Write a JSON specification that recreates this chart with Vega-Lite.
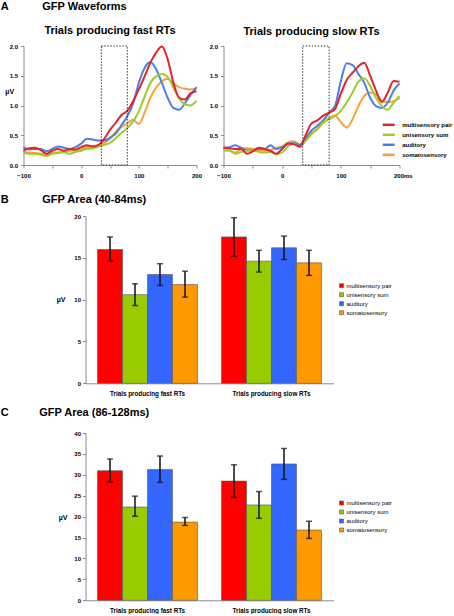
{
  "$schema": "https://vega.github.io/schema/vega-lite/v6.json",
  "background": "white",
  "padding": {"left": 0.5, "top": 1, "right": 0, "bottom": 0},
  "bounds": "full",
  "spacing": 0,
  "config": {
    "font": "Liberation Sans",
    "view": {"stroke": null},
    "axis": {"labelFont": "Liberation Sans", "labelColor": "#000", "labelFontWeight": "bold", "labelFontSize": 6, "labelOverlap": false, "domainColor": "#8c8c8c", "tickColor": "#8c8c8c", "grid": false, "tickSize": 3, "titleFont": "Liberation Sans", "titleFontWeight": "bold", "titleFontSize": 7, "titleColor": "#000"},
    "legend": {"labelFont": "Liberation Sans", "labelColor": "#000"},
    "title": {"font": "Liberation Sans", "fontWeight": "bold", "fontSize": 11, "color": "#000"}
  },
  "resolve": {"scale": {"color": "independent", "x": "independent", "y": "independent", "xOffset": "independent"}, "legend": {"color": "independent"}},
  "datasets": {
    "fast": [
      {"ms": -100, "multisensory pair": 0.24, "unisensory sum": 0.21, "auditory": 0.30, "somatosensory": 0.22},
      {"ms": -90, "multisensory pair": 0.28, "unisensory sum": 0.19, "auditory": 0.26, "somatosensory": 0.21},
      {"ms": -80, "multisensory pair": 0.29, "unisensory sum": 0.19, "auditory": 0.27, "somatosensory": 0.20},
      {"ms": -70, "multisensory pair": 0.25, "unisensory sum": 0.17, "auditory": 0.27, "somatosensory": 0.19},
      {"ms": -60, "multisensory pair": 0.19, "unisensory sum": 0.15, "auditory": 0.23, "somatosensory": 0.17},
      {"ms": -50, "multisensory pair": 0.24, "unisensory sum": 0.19, "auditory": 0.27, "somatosensory": 0.20},
      {"ms": -40, "multisensory pair": 0.27, "unisensory sum": 0.20, "auditory": 0.31, "somatosensory": 0.21},
      {"ms": -30, "multisensory pair": 0.24, "unisensory sum": 0.22, "auditory": 0.29, "somatosensory": 0.22},
      {"ms": -20, "multisensory pair": 0.27, "unisensory sum": 0.19, "auditory": 0.27, "somatosensory": 0.24},
      {"ms": -10, "multisensory pair": 0.26, "unisensory sum": 0.22, "auditory": 0.30, "somatosensory": 0.25},
      {"ms": 0, "multisensory pair": 0.30, "unisensory sum": 0.24, "auditory": 0.36, "somatosensory": 0.27},
      {"ms": 10, "multisensory pair": 0.33, "unisensory sum": 0.27, "auditory": 0.44, "somatosensory": 0.30},
      {"ms": 20, "multisensory pair": 0.31, "unisensory sum": 0.28, "auditory": 0.43, "somatosensory": 0.32},
      {"ms": 30, "multisensory pair": 0.34, "unisensory sum": 0.31, "auditory": 0.41, "somatosensory": 0.33},
      {"ms": 40, "multisensory pair": 0.44, "unisensory sum": 0.34, "auditory": 0.41, "somatosensory": 0.37},
      {"ms": 50, "multisensory pair": 0.59, "unisensory sum": 0.37, "auditory": 0.46, "somatosensory": 0.44},
      {"ms": 60, "multisensory pair": 0.71, "unisensory sum": 0.45, "auditory": 0.53, "somatosensory": 0.56},
      {"ms": 70, "multisensory pair": 0.84, "unisensory sum": 0.54, "auditory": 0.67, "somatosensory": 0.64},
      {"ms": 80, "multisensory pair": 0.91, "unisensory sum": 0.62, "auditory": 0.82, "somatosensory": 0.70},
      {"ms": 90, "multisensory pair": 1.07, "unisensory sum": 0.73, "auditory": 1.03, "somatosensory": 0.76},
      {"ms": 100, "multisensory pair": 1.27, "unisensory sum": 0.90, "auditory": 1.38, "somatosensory": 0.69},
      {"ms": 110, "multisensory pair": 1.49, "unisensory sum": 1.15, "auditory": 1.63, "somatosensory": 0.88},
      {"ms": 120, "multisensory pair": 1.72, "unisensory sum": 1.38, "auditory": 1.73, "somatosensory": 1.13},
      {"ms": 130, "multisensory pair": 1.89, "unisensory sum": 1.49, "auditory": 1.61, "somatosensory": 1.30},
      {"ms": 140, "multisensory pair": 1.99, "unisensory sum": 1.53, "auditory": 1.38, "somatosensory": 1.41},
      {"ms": 150, "multisensory pair": 1.78, "unisensory sum": 1.48, "auditory": 1.13, "somatosensory": 1.45},
      {"ms": 160, "multisensory pair": 1.38, "unisensory sum": 1.30, "auditory": 0.96, "somatosensory": 1.37},
      {"ms": 170, "multisensory pair": 1.13, "unisensory sum": 1.12, "auditory": 0.93, "somatosensory": 1.31},
      {"ms": 180, "multisensory pair": 1.10, "unisensory sum": 1.02, "auditory": 1.04, "somatosensory": 1.28},
      {"ms": 190, "multisensory pair": 1.21, "unisensory sum": 1.00, "auditory": 1.18, "somatosensory": 1.27},
      {"ms": 200, "multisensory pair": 1.24, "unisensory sum": 1.08, "auditory": 1.31, "somatosensory": 1.28}
    ],
    "slow": [
      {"ms": -100, "multisensory pair": 0.30, "unisensory sum": 0.24, "auditory": 0.28, "somatosensory": 0.25},
      {"ms": -90, "multisensory pair": 0.28, "unisensory sum": 0.25, "auditory": 0.30, "somatosensory": 0.24},
      {"ms": -80, "multisensory pair": 0.27, "unisensory sum": 0.19, "auditory": 0.33, "somatosensory": 0.21},
      {"ms": -70, "multisensory pair": 0.27, "unisensory sum": 0.22, "auditory": 0.29, "somatosensory": 0.27},
      {"ms": -60, "multisensory pair": 0.19, "unisensory sum": 0.24, "auditory": 0.25, "somatosensory": 0.28},
      {"ms": -50, "multisensory pair": 0.23, "unisensory sum": 0.24, "auditory": 0.25, "somatosensory": 0.27},
      {"ms": -40, "multisensory pair": 0.29, "unisensory sum": 0.22, "auditory": 0.27, "somatosensory": 0.24},
      {"ms": -30, "multisensory pair": 0.27, "unisensory sum": 0.21, "auditory": 0.27, "somatosensory": 0.24},
      {"ms": -20, "multisensory pair": 0.24, "unisensory sum": 0.22, "auditory": 0.33, "somatosensory": 0.25},
      {"ms": -10, "multisensory pair": 0.19, "unisensory sum": 0.18, "auditory": 0.27, "somatosensory": 0.29},
      {"ms": 0, "multisensory pair": 0.27, "unisensory sum": 0.21, "auditory": 0.30, "somatosensory": 0.31},
      {"ms": 10, "multisensory pair": 0.36, "unisensory sum": 0.31, "auditory": 0.35, "somatosensory": 0.38},
      {"ms": 20, "multisensory pair": 0.35, "unisensory sum": 0.36, "auditory": 0.37, "somatosensory": 0.40},
      {"ms": 30, "multisensory pair": 0.31, "unisensory sum": 0.30, "auditory": 0.34, "somatosensory": 0.34},
      {"ms": 40, "multisensory pair": 0.50, "unisensory sum": 0.40, "auditory": 0.45, "somatosensory": 0.42},
      {"ms": 50, "multisensory pair": 0.70, "unisensory sum": 0.52, "auditory": 0.58, "somatosensory": 0.53},
      {"ms": 60, "multisensory pair": 0.75, "unisensory sum": 0.60, "auditory": 0.66, "somatosensory": 0.61},
      {"ms": 70, "multisensory pair": 0.83, "unisensory sum": 0.72, "auditory": 0.75, "somatosensory": 0.71},
      {"ms": 80, "multisensory pair": 0.88, "unisensory sum": 0.77, "auditory": 0.88, "somatosensory": 0.79},
      {"ms": 90, "multisensory pair": 0.94, "unisensory sum": 0.82, "auditory": 0.99, "somatosensory": 0.83},
      {"ms": 100, "multisensory pair": 1.20, "unisensory sum": 0.91, "auditory": 1.41, "somatosensory": 0.72},
      {"ms": 110, "multisensory pair": 1.43, "unisensory sum": 1.05, "auditory": 1.71, "somatosensory": 0.63},
      {"ms": 120, "multisensory pair": 1.55, "unisensory sum": 1.22, "auditory": 1.68, "somatosensory": 0.77},
      {"ms": 130, "multisensory pair": 1.66, "unisensory sum": 1.40, "auditory": 1.53, "somatosensory": 0.99},
      {"ms": 140, "multisensory pair": 1.72, "unisensory sum": 1.46, "auditory": 1.38, "somatosensory": 1.16},
      {"ms": 150, "multisensory pair": 1.50, "unisensory sum": 1.33, "auditory": 1.13, "somatosensory": 1.22},
      {"ms": 160, "multisensory pair": 1.25, "unisensory sum": 1.13, "auditory": 0.99, "somatosensory": 1.19},
      {"ms": 170, "multisensory pair": 1.06, "unisensory sum": 0.99, "auditory": 0.96, "somatosensory": 1.08},
      {"ms": 180, "multisensory pair": 1.22, "unisensory sum": 0.93, "auditory": 1.05, "somatosensory": 1.06},
      {"ms": 190, "multisensory pair": 1.41, "unisensory sum": 1.05, "auditory": 1.25, "somatosensory": 1.07},
      {"ms": 200, "multisensory pair": 1.40, "unisensory sum": 1.16, "auditory": 1.37, "somatosensory": 1.13}
    ],
    "areaB": [
      {"group": "Trials producing fast RTs", "series": "multisensory pair", "value": 16.0, "lo": 14.6, "hi": 17.5},
      {"group": "Trials producing fast RTs", "series": "unisensory sum", "value": 10.6, "lo": 9.3, "hi": 11.9},
      {"group": "Trials producing fast RTs", "series": "auditory", "value": 13.0, "lo": 11.7, "hi": 14.3},
      {"group": "Trials producing fast RTs", "series": "somatosensory", "value": 11.8, "lo": 10.3, "hi": 13.4},
      {"group": "Trials producing slow RTs", "series": "multisensory pair", "value": 17.5, "lo": 15.2, "hi": 19.8},
      {"group": "Trials producing slow RTs", "series": "unisensory sum", "value": 14.6, "lo": 13.3, "hi": 15.9},
      {"group": "Trials producing slow RTs", "series": "auditory", "value": 16.2, "lo": 14.8, "hi": 17.6},
      {"group": "Trials producing slow RTs", "series": "somatosensory", "value": 14.4, "lo": 12.9, "hi": 15.9}
    ],
    "areaC": [
      {"group": "Trials producing fast RTs", "series": "multisensory pair", "value": 31.0, "lo": 28.3, "hi": 33.8},
      {"group": "Trials producing fast RTs", "series": "unisensory sum", "value": 22.3, "lo": 20.1, "hi": 24.9},
      {"group": "Trials producing fast RTs", "series": "auditory", "value": 31.3, "lo": 28.2, "hi": 34.5},
      {"group": "Trials producing fast RTs", "series": "somatosensory", "value": 18.7, "lo": 17.9, "hi": 19.8},
      {"group": "Trials producing slow RTs", "series": "multisensory pair", "value": 28.5, "lo": 24.6, "hi": 32.4},
      {"group": "Trials producing slow RTs", "series": "unisensory sum", "value": 22.8, "lo": 19.6, "hi": 26.0},
      {"group": "Trials producing slow RTs", "series": "auditory", "value": 32.6, "lo": 28.9, "hi": 36.3},
      {"group": "Trials producing slow RTs", "series": "somatosensory", "value": 16.8, "lo": 14.8, "hi": 18.9}
    ]
  },
  "vconcat": [
    {
      "title": {"text": "A\u00a0\u00a0\u00a0\u00a0\u00a0\u00a0\u00a0\u00a0\u00a0\u00a0\u00a0GFP Waveforms", "anchor": "start", "frame": "group", "dx": -22.8, "offset": 4, "baseline": "alphabetic"},
      "hconcat": [
        {
          "width": 173,
          "height": 119,
          "title": {"text": "Trials producing fast RTs", "anchor": "middle", "frame": "group", "offset": -2.5, "baseline": "alphabetic"},
          "layer": [
            {
              "data": {"name": "fast"},
              "transform": [{"fold": ["somatosensory", "auditory", "unisensory sum", "multisensory pair"], "as": ["series", "uV"]}],
              "mark": {"type": "line", "interpolate": "monotone", "strokeWidth": 2},
              "encoding": {
                "x": {"field": "ms", "type": "quantitative", "scale": {"domain": [-100, 200], "nice": false}, "axis": {"values": [-100, -50, 0, 50, 100, 150, 200], "tickCount": 20, "labelExpr": "datum.value % 100 === 0 ? datum.label : ''", "title": null, "labelFlush": false, "labelOverlap": false, "labelPadding": 4}},
                "y": {"field": "uV", "type": "quantitative", "scale": {"domain": [0, 2], "nice": false}, "axis": {"values": [0, 0.5, 1, 1.5, 2], "tickCount": 20, "format": ".1f", "title": "µV", "titleAngle": 0, "titleAlign": "center", "titleBaseline": "middle", "titleX": -14.3, "titleY": 45, "labelPadding": 3, "labelOverlap": false}},
                "color": {"field": "series", "type": "nominal", "scale": {"domain": ["multisensory pair", "unisensory sum", "auditory", "somatosensory"], "range": ["#e3242b", "#9dcb2c", "#4d7ee6", "#f6a23a"]}, "legend": null}
              }
            },
            {
              "data": {"values": [{"from": 35, "to": 80, "bottom": 0, "top": 2}]},
              "mark": {"type": "rect", "fillOpacity": 0, "stroke": "#222", "strokeWidth": 0.9, "strokeDash": [1.5, 1.5]},
              "encoding": {
                "x": {"field": "from", "type": "quantitative"},
                "x2": {"field": "to"},
                "y": {"field": "bottom", "type": "quantitative"},
                "y2": {"field": "top"}
              }
            }
          ]
        },
        {
          "width": 176,
          "height": 119,
          "title": {"text": "Trials producing slow RTs", "anchor": "middle", "frame": "group", "offset": -2.5, "baseline": "alphabetic"},
          "layer": [
            {
              "data": {"name": "slow"},
              "transform": [{"fold": ["somatosensory", "auditory", "unisensory sum", "multisensory pair"], "as": ["series", "uV"]}],
              "mark": {"type": "line", "interpolate": "monotone", "strokeWidth": 2},
              "encoding": {
                "x": {"field": "ms", "type": "quantitative", "scale": {"domain": [-100, 200], "nice": false}, "axis": {"values": [-100, -50, 0, 50, 100, 150, 200], "tickCount": 20, "labelExpr": "datum.value === 200 ? '200ms' : (datum.value % 100 === 0 ? datum.label : '')", "labelAlign": {"condition": {"test": "datum.value === 200", "value": "left"}, "value": "center"}, "labelOffset": {"condition": {"test": "datum.value === 200", "value": -6}, "value": 0}, "title": null, "labelFlush": false, "labelOverlap": false, "labelPadding": 4}},
                "y": {"field": "uV", "type": "quantitative", "scale": {"domain": [0, 2], "nice": false}, "axis": {"values": [0, 0.5, 1, 1.5, 2], "tickCount": 20, "format": ".1f", "title": null, "labelPadding": 3, "labelOverlap": false}},
                "color": {"field": "series", "type": "nominal", "scale": {"domain": ["multisensory pair", "unisensory sum", "auditory", "somatosensory"], "range": ["#e3242b", "#9dcb2c", "#4d7ee6", "#f6a23a"]}, "legend": {"orient": "none", "legendX": 160.2, "legendY": 73.8, "title": null, "symbolType": "M-1.7,0H1.7", "symbolSize": 49, "symbolStrokeWidth": 2.5, "labelFontSize": 6, "labelFontWeight": "bold", "labelOffset": 8.5, "rowPadding": 0, "padding": 0}}
              }
            },
            {
              "data": {"values": [{"from": 35, "to": 80, "bottom": 0, "top": 2}]},
              "mark": {"type": "rect", "fillOpacity": 0, "stroke": "#222", "strokeWidth": 0.9, "strokeDash": [1.5, 1.5]},
              "encoding": {
                "x": {"field": "from", "type": "quantitative"},
                "x2": {"field": "to"},
                "y": {"field": "bottom", "type": "quantitative"},
                "y2": {"field": "top"}
              }
            }
          ]
        },
        {"width": 1, "height": 148, "data": {"values": []}, "mark": "point"}
      ],
      "spacing": 27,
      "bounds": "flush",
      "resolve": {"scale": {"color": "independent", "x": "independent", "y": "independent"}, "legend": {"color": "independent"}}
    },
    {
      "hconcat": [
        {"width": 62, "height": 190.7, "data": {"values": []}, "mark": "point"},
        {
          "width": 248,
          "height": 167.3,
          "title": {"text": "B\u00a0\u00a0\u00a0\u00a0\u00a0\u00a0\u00a0\u00a0\u00a0\u00a0\u00a0GFP Area (40-84ms)", "anchor": "start", "frame": "group", "dx": -84.8, "offset": -1, "baseline": "alphabetic"},
          "data": {"name": "areaB"},
          "encoding": {
            "x": {"field": "group", "type": "nominal", "sort": ["Trials producing fast RTs", "Trials producing slow RTs"], "scale": {"paddingInner": 0.194, "paddingOuter": 0.097}, "axis": {"title": null, "labelAngle": 0, "ticks": false, "labelPadding": 7, "labelFontSize": 6.3}},
            "xOffset": {"field": "series", "type": "nominal", "sort": ["multisensory pair", "unisensory sum", "auditory", "somatosensory"], "scale": {"paddingInner": 0, "paddingOuter": 0}}
          },
          "layer": [
            {
              "mark": {"type": "bar", "stroke": "#555", "strokeWidth": 0.6},
              "encoding": {
                "y": {"field": "value", "type": "quantitative", "stack": null, "scale": {"domain": [0, 20], "nice": false}, "axis": {"values": [0, 5, 10, 15, 20], "tickCount": 20, "title": "µV", "titleAngle": 0, "titleAlign": "center", "titleBaseline": "middle", "titleX": -25, "titleY": 83, "labelPadding": 2, "labelOverlap": false}},
                "color": {"field": "series", "type": "nominal", "scale": {"domain": ["multisensory pair", "unisensory sum", "auditory", "somatosensory"], "range": ["#ff0000", "#99cc00", "#3366ff", "#ff9900"]}, "legend": {"orient": "none", "legendX": 315, "legendY": 66.7, "title": null, "symbolType": "square", "symbolSize": 16, "symbolStrokeColor": "#555", "symbolStrokeWidth": 0.6, "labelFontSize": 6, "labelOffset": 2, "rowPadding": 1, "padding": 0}}
              }
            },
            {
              "mark": {"type": "rule", "color": "#111", "strokeWidth": 1.5},
              "encoding": {"y": {"field": "lo", "type": "quantitative"}, "y2": {"field": "hi"}}
            },
            {
              "mark": {"type": "tick", "color": "#111", "thickness": 1.5, "size": 6},
              "encoding": {"y": {"field": "lo", "type": "quantitative"}}
            },
            {
              "mark": {"type": "tick", "color": "#111", "thickness": 1.5, "size": 6},
              "encoding": {"y": {"field": "hi", "type": "quantitative"}}
            }
          ]
        }
      ],
      "spacing": 0,
      "bounds": "flush"
    },
    {
      "hconcat": [
        {"width": 62, "height": 167.3, "data": {"values": []}, "mark": "point"},
        {
          "width": 248,
          "height": 167.3,
          "title": {"text": "C\u00a0\u00a0\u00a0\u00a0\u00a0\u00a0\u00a0\u00a0\u00a0\u00a0GFP Area (86-128ms)", "anchor": "start", "frame": "group", "dx": -84.8, "offset": 2.8, "baseline": "alphabetic"},
          "data": {"name": "areaC"},
          "encoding": {
            "x": {"field": "group", "type": "nominal", "sort": ["Trials producing fast RTs", "Trials producing slow RTs"], "scale": {"paddingInner": 0.194, "paddingOuter": 0.097}, "axis": {"title": null, "labelAngle": 0, "ticks": false, "labelPadding": 7, "labelFontSize": 6.3}},
            "xOffset": {"field": "series", "type": "nominal", "sort": ["multisensory pair", "unisensory sum", "auditory", "somatosensory"], "scale": {"paddingInner": 0, "paddingOuter": 0}}
          },
          "layer": [
            {
              "mark": {"type": "bar", "stroke": "#555", "strokeWidth": 0.6},
              "encoding": {
                "y": {"field": "value", "type": "quantitative", "stack": null, "scale": {"domain": [0, 40], "nice": false}, "axis": {"values": [0, 5, 10, 15, 20, 25, 30, 35, 40], "tickCount": 20, "title": "µV", "titleAngle": 0, "titleAlign": "center", "titleBaseline": "middle", "titleX": -23, "titleY": 84, "labelPadding": 2, "labelOverlap": false}},
                "color": {"field": "series", "type": "nominal", "scale": {"domain": ["multisensory pair", "unisensory sum", "auditory", "somatosensory"], "range": ["#ff0000", "#99cc00", "#3366ff", "#ff9900"]}, "legend": {"orient": "none", "legendX": 315, "legendY": 67, "title": null, "symbolType": "square", "symbolSize": 16, "symbolStrokeColor": "#555", "symbolStrokeWidth": 0.6, "labelFontSize": 6, "labelOffset": 2, "rowPadding": 1, "padding": 0}}
              }
            },
            {
              "mark": {"type": "rule", "color": "#111", "strokeWidth": 1.5},
              "encoding": {"y": {"field": "lo", "type": "quantitative"}, "y2": {"field": "hi"}}
            },
            {
              "mark": {"type": "tick", "color": "#111", "thickness": 1.5, "size": 6},
              "encoding": {"y": {"field": "lo", "type": "quantitative"}}
            },
            {
              "mark": {"type": "tick", "color": "#111", "thickness": 1.5, "size": 6},
              "encoding": {"y": {"field": "hi", "type": "quantitative"}}
            }
          ]
        }
      ],
      "spacing": 0,
      "bounds": "flush"
    }
  ]
}
